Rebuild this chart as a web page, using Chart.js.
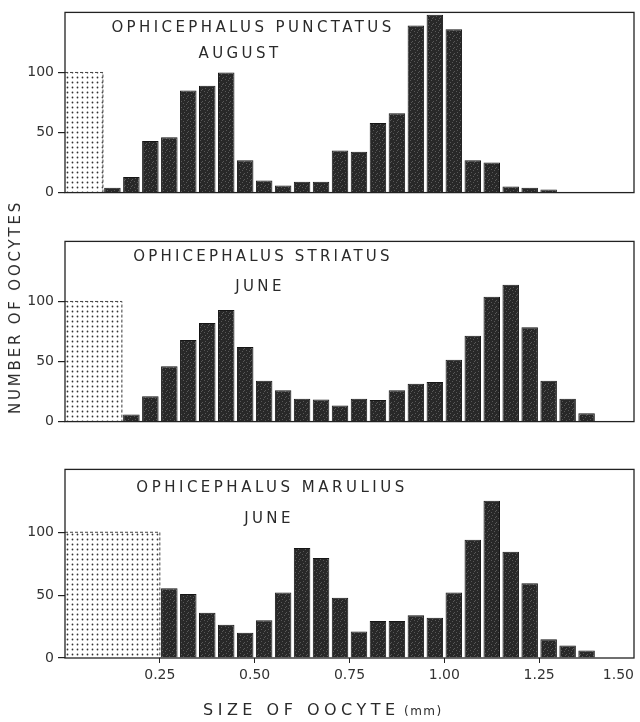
<!DOCTYPE html>
<html>
<head>
<meta charset="utf-8">
<script src="https://cdn.jsdelivr.net/npm/chart.js@4.4.0/dist/chart.umd.min.js"></script>
<style>
    body { margin: 0; background: #fff; width: 640px; height: 722px; overflow: hidden; position: relative; }
    .panel { position: absolute; left: 0; width: 640px; }
    #yTitle {
        position: absolute; left: 15px; top: 307px;
        transform: translate(-50%, -50%) rotate(-90deg);
        font: 15px 'DejaVu Sans'; letter-spacing: 2.8px; color: #2a2a2a; white-space: nowrap;
    }
</style>
</head>
<body>
<div class="panel" style="top:0;height:205px"><canvas id="punctatusChart"></canvas></div>
<div class="panel" style="top:229px;height:205px"><canvas id="striatusChart"></canvas></div>
<div class="panel" style="top:457px;height:265px"><canvas id="maruliusChart"></canvas></div>
<div id="yTitle">NUMBER OF OOCYTES</div>

<script>
// Datos (clases de 0.05 mm)
const binWidth = 0.05;
const xTickValues = [0, 0.25, 0.5, 0.75, 1.0, 1.25, 1.5];
const yTickValues = [0, 50, 100];
const stippleHeight = 100;

const punctatusStart = 0.10;
const punctatusCounts = [4, 13, 43, 46, 85, 89, 100, 27, 10, 6, 9, 9, 35, 34, 58, 66, 139, 148, 136, 27, 25, 5, 4, 2.5];

const striatusStart = 0.15;
const striatusCounts = [6, 21, 46, 68, 82, 93, 62, 34, 26, 19, 18.5, 13.5, 19, 18, 26, 31.5, 33, 51.5, 71.5, 104, 114, 78.5, 34, 19, 7];

const maruliusStart = 0.25;
const maruliusCounts = [55.5, 51, 36, 26.5, 20, 30, 52, 87.5, 79.5, 48, 21, 29.5, 29.5, 34, 32, 52, 94, 125, 84.5, 59.5, 15, 10, 6];

function bins(start, counts) {
    return counts.map((c, i) => ({ x: start + binWidth * (i + 0.5), y: c }));
}

// Patrones de relleno
function dotPattern(ctx) {
    const c = document.createElement('canvas');
    c.width = 5; c.height = 5;
    const g = c.getContext('2d');
    g.fillStyle = '#333';
    g.beginPath(); g.arc(2.5, 2.5, 0.9, 0, Math.PI * 2); g.fill();
    return ctx.createPattern(c, 'repeat');
}

function grainPattern(ctx) {
    const c = document.createElement('canvas');
    c.width = 7; c.height = 6;
    const g = c.getContext('2d');
    g.fillStyle = '#282828';
    g.fillRect(0, 0, 7, 6);
    g.fillStyle = '#585858';
    [[1, 1], [4, 2], [2, 4], [6, 5], [5, 0]].forEach(([x, y]) => g.fillRect(x, y, 1, 1));
    return ctx.createPattern(c, 'repeat');
}

// Marco y rótulos
const panelDecor = {
    id: 'panelDecor',
    afterDraw(chart, args, opts) {
        const { ctx, chartArea: a } = chart;
        ctx.save();
        ctx.strokeStyle = '#222';
        ctx.lineWidth = 1.3;
        ctx.strokeRect(a.left, a.top, a.right - a.left, a.bottom - a.top);
        ctx.fillStyle = '#2a2a2a';
        (opts.texts || []).forEach(t => {
            ctx.font = t.font;
            ctx.letterSpacing = t.spacing + 'px';
            ctx.textAlign = t.align || 'center';
            ctx.textBaseline = t.baseline || 'middle';
            ctx.fillText(t.text, t.x, t.y);
        });
        ctx.restore();
    }
};

function crearPanel(id, start, counts, texts, showX, bottomPad) {
    const ctx = document.getElementById(id).getContext('2d');
    return new Chart(ctx, {
        type: 'bar',
        data: {
            datasets: [{
                type: 'line',
                data: [{ x: 0, y: stippleHeight }, { x: start, y: stippleHeight }, { x: start, y: 0 }],
                borderColor: '#444',
                borderWidth: 1,
                borderDash: [3, 2],
                backgroundColor: dotPattern(ctx),
                fill: 'origin',
                pointRadius: 0,
                tension: 0
            }, {
                data: bins(start, counts),
                backgroundColor: grainPattern(ctx),
                borderColor: '#151515',
                borderWidth: 1,
                barPercentage: 0.87,
                categoryPercentage: 1
            }]
        },
        options: {
            responsive: true,
            maintainAspectRatio: false,
            animation: false,
            layout: { padding: { top: 5, right: 6, left: 0, bottom: bottomPad } },
            plugins: {
                legend: { display: false },
                tooltip: { enabled: false },
                panelDecor: { texts: texts }
            },
            scales: {
                x: {
                    type: 'linear',
                    min: 0,
                    max: 1.5,
                    offset: false,
                    afterBuildTicks: s => { s.ticks = xTickValues.map(v => ({ value: v })); },
                    afterFit: s => { s.height = showX ? 64 : 0; s.paddingLeft = 0; s.paddingRight = 0; },
                    border: { display: false },
                    grid: {
                        display: showX,
                        offset: false,
                        drawOnChartArea: false,
                        tickLength: 5,
                        tickColor: c => (c.tick && (c.tick.value === 0 || c.tick.value === 1.5)) ? 'rgba(0,0,0,0)' : '#222'
                    },
                    ticks: {
                        display: showX,
                        align: 'inner',
                        padding: 4,
                        color: '#333',
                        font: { family: 'DejaVu Sans', size: 14 },
                        callback: v => v === 0 ? '' : v.toFixed(2)
                    }
                },
                y: {
                    min: 0,
                    max: 150,
                    afterBuildTicks: s => { s.ticks = yTickValues.map(v => ({ value: v })); },
                    afterFit: s => { s.width = 65; },
                    border: { display: false },
                    grid: { drawOnChartArea: false, tickLength: 7, tickColor: '#222', lineWidth: 1.2 },
                    ticks: {
                        padding: 4,
                        color: '#333',
                        font: { family: 'DejaVu Sans', size: 14 }
                    }
                }
            }
        },
        plugins: [panelDecor]
    });
}

const tituloFont = '15px DejaVu Sans';

crearPanel('punctatusChart', punctatusStart, punctatusCounts, [
    { text: 'OPHICEPHALUS PUNCTATUS', x: 253, y: 28, font: tituloFont, spacing: 3.4 },
    { text: 'AUGUST', x: 240, y: 54, font: tituloFont, spacing: 3.4 }
], false, 5);

crearPanel('striatusChart', striatusStart, striatusCounts, [
    { text: 'OPHICEPHALUS STRIATUS', x: 263, y: 28, font: tituloFont, spacing: 3.2 },
    { text: 'JUNE', x: 260, y: 58, font: tituloFont, spacing: 3.4 }
], false, 6);

crearPanel('maruliusChart', maruliusStart, maruliusCounts, [
    { text: 'OPHICEPHALUS MARULIUS', x: 272, y: 31, font: tituloFont, spacing: 3.5 },
    { text: 'JUNE', x: 269, y: 62, font: tituloFont, spacing: 3.4 },
    { text: 'SIZE OF OOCYTE', x: 203, y: 258, font: '16px DejaVu Sans', spacing: 4.5, align: 'left', baseline: 'alphabetic' },
    { text: '(mm)', x: 404, y: 258, font: '12px DejaVu Sans', spacing: 1.5, align: 'left', baseline: 'alphabetic' }
], true, 0);
</script>
</body>
</html>
